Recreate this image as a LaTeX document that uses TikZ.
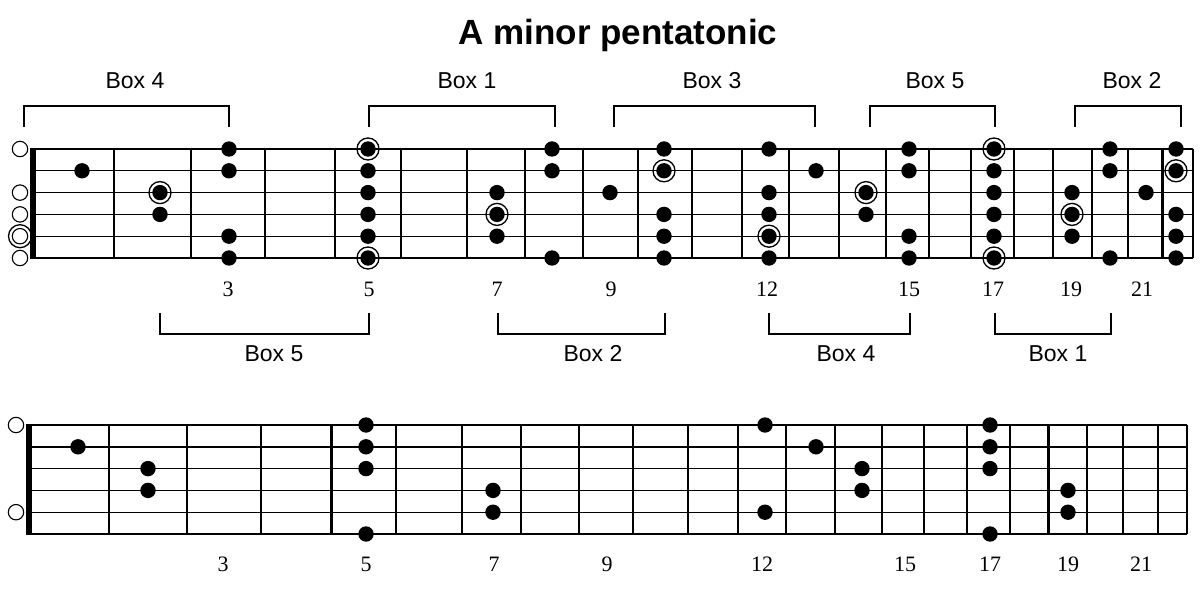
\documentclass[tikz,border=0pt]{standalone}
\usepackage{fontspec}
\setmainfont{Liberation Serif}
\setsansfont{Liberation Sans}
\tikzset{
  strline/.style={line width=1.4pt},
  fretline/.style={line width=1.8pt},
  boldfret/.style={line width=3pt},
  nutline/.style={line width=5.5pt},
  bracket/.style={line width=1.1pt},
  openstr/.style={draw, fill=white, line width=1.1pt},
  ringline/.style={line width=1.3pt},
  title/.style={font=\sffamily\bfseries\fontsize{35}{40}\selectfont, anchor=base, inner sep=0pt},
  boxlabel/.style={font=\sffamily\fontsize{23}{26}\selectfont, anchor=base, inner sep=0pt},
  fretnum/.style={font=\fontsize{22}{24}\selectfont, anchor=base, inner sep=0pt}
}
\begin{document}
\begin{tikzpicture}[x=1pt,y=-1pt]
\useasboundingbox (0,0) rectangle (1200,599);

\node[title] (ttl) at (618,45) {A minor pentatonic};

% ===== top fretboard =====
\foreach \r in {1,...,6}
  \draw[strline] (33,{149+21.8*(\r-1)}) -- (1193,{149+21.8*(\r-1)});
\foreach \x in {114,191,265,335,401,467,525,583,638,692,742,789,839,886,929,971,1014,1053,1092,1128}
  \draw[fretline] (\x,149) -- (\x,258);
\draw[boldfret] (1162,149) -- (1162,258);
\draw[line width=1.3pt] (1193,149) -- (1193,258);
\draw[nutline] (33,148) -- (33,259);

\foreach \r in {1,3,4,5,6}
  \draw[openstr] (20,{149+21.8*(\r-1)}) circle (7.7pt);
\draw[ringline] (20,236.2) circle (11.5pt);

\foreach \x/\r in {82/2,160/4,229/1,229/2,229/5,229/6,368/2,368/3,368/4,368/5,
  497/3,497/5,552/1,552/2,552/6,610/3,664/1,664/4,664/5,664/6,
  769/1,769/3,769/4,769/6,816/2,866/4,909/1,909/2,909/5,909/6,
  994/2,994/3,994/4,994/5,1072/3,1072/5,1110/1,1110/2,1110/6,1146/3,
  1176/1,1176/4,1176/5,1176/6}
  \fill (\x,{149+21.8*(\r-1)}) circle (7.7pt);
\foreach \x/\r in {160/3,368/1,368/6,497/4,664/2,769/5,866/3,994/1,994/6,1072/4,1176/2}{
  \fill (\x,{149+21.8*(\r-1)}) circle (7.7pt);
  \draw[ringline] (\x,{149+21.8*(\r-1)}) circle (11pt);
}

\foreach \x/\t in {228/3,369/5,497/7,611/9,767/12,909/15,993/17,1071/19,1142/21}
  \node[fretnum] at (\x,296) {\t};

% top brackets
\draw[bracket] (24,127) -- (24,106) -- (229,106) -- (229,127);
\draw[bracket] (369,127) -- (369,106) -- (555,106) -- (555,127);
\draw[bracket] (614,127) -- (614,106) -- (815,106) -- (815,127);
\draw[bracket] (870,127) -- (870,106) -- (995,106) -- (995,127);
\draw[bracket] (1075,127) -- (1075,106) -- (1181,106) -- (1181,127);
\node[boxlabel] (b4t) at (135,89) {Box 4};
\node[boxlabel] (b1t) at (467,89) {Box 1};
\node[boxlabel] (b3t) at (712,89) {Box 3};
\node[boxlabel] (b5t) at (935,89) {Box 5};
\node[boxlabel] (b2t) at (1132,89) {Box 2};

% bottom brackets (under top board)
\draw[bracket] (160,313) -- (160,334) -- (369,334) -- (369,313);
\draw[bracket] (498,313) -- (498,334) -- (665,334) -- (665,313);
\draw[bracket] (769,313) -- (769,334) -- (910,334) -- (910,313);
\draw[bracket] (995,313) -- (995,334) -- (1111,334) -- (1111,313);
\node[boxlabel] (b5b) at (274,361) {Box 5};
\node[boxlabel] (b2b) at (593,361) {Box 2};
\node[boxlabel] (b4b) at (846,361) {Box 4};
\node[boxlabel] (b1b) at (1058,361) {Box 1};

% ===== bottom fretboard =====
\foreach \r in {1,...,6}
  \draw[strline] (29,{425+21.8*(\r-1)}) -- (1187,{425+21.8*(\r-1)});
\foreach \x in {109,187,261,396,462,521,579,633,688,738,786,835,882,924,967,1010,1087,1123,1158}
  \draw[fretline] (\x,425) -- (\x,534);
\draw[boldfret] (331,425) -- (331,534);
\draw[boldfret] (1048,425) -- (1048,534);
\draw[line width=1.3pt] (1187,425) -- (1187,534);
\draw[nutline] (29,424) -- (29,535);

\foreach \r in {1,5}
  \draw[openstr] (16,{425+21.8*(\r-1)}) circle (7.7pt);

\foreach \x/\r in {78/2,148/3,148/4,366/1,366/2,366/3,366/6,493/4,493/5,
  765/1,765/5,816/2,862/3,862/4,990/1,990/2,990/3,990/6,1068/4,1068/5}
  \fill (\x,{425+21.8*(\r-1)}) circle (7.7pt);

\foreach \x/\t in {223/3,366/5,494/7,607/9,762/12,905/15,990/17,1068/19,1141/21}
  \node[fretnum] at (\x,571) {\t};
\end{tikzpicture}
\end{document}
